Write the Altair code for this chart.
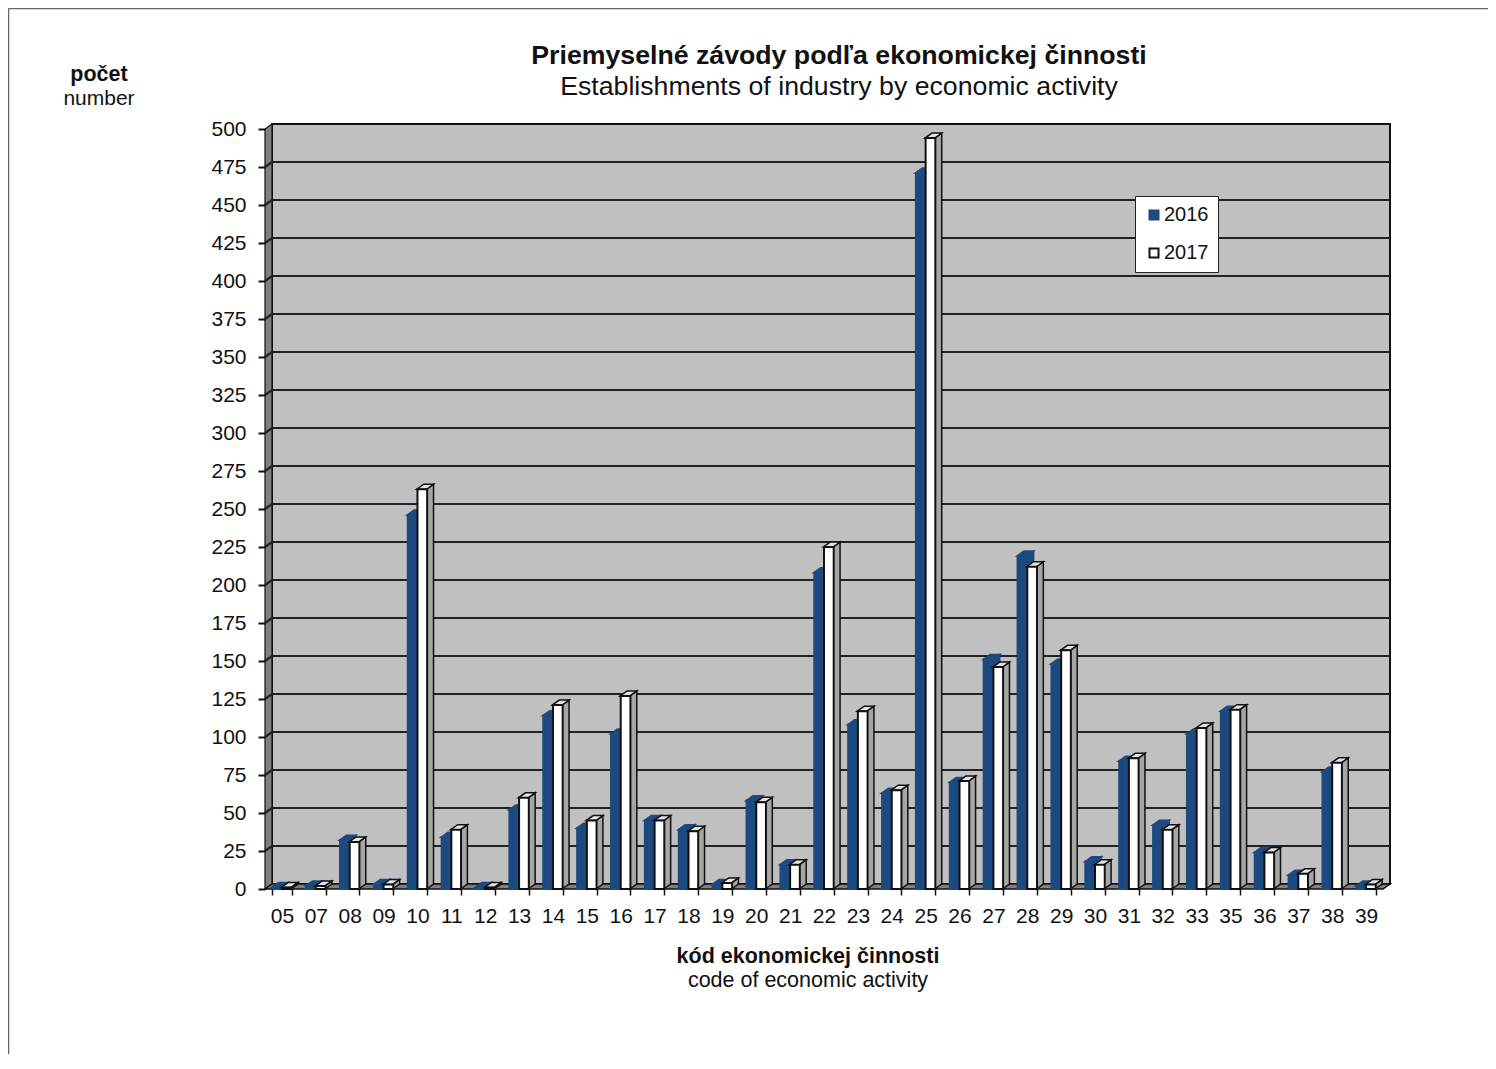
import altair as alt
import pandas as pd

codes = ["05","07","08","09","10","11","12","13","14","15","16","17","18","19","20","21","22",
         "23","24","25","26","27","28","29","30","31","32","33","35","36","37","38","39"]
v2016 = [1,2,32,3,246,34,1,52,114,40,102,45,39,3,58,16,208,108,63,471,70,151,219,148,18,84,42,102,117,24,9,77,2]
v2017 = [1,2,31,3,263,39,1,60,121,45,127,45,38,4,57,16,225,117,65,494,71,146,212,157,16,86,39,106,118,24,10,83,3]
ticks = list(range(0, 501, 25))

PLOT_W, PLOT_H = 1118, 760
n = len(codes)
STEP = PLOT_W / n
UNIT = PLOT_H / 500
DX = 7 / STEP        # depth of the 3-D box, in category units
DY = 5 / UNIT        # depth of the 3-D box, in value units
BAR = 9.7 / STEP
START = 6.6 / STEP

FONT = "Liberation Sans"
BLUE = "#1C4A80"


def faces(values, slot):
    side, top = [], []
    for i, v in enumerate(values):
        r = i + START + BAR * (slot + 1)
        l = r - BAR
        side += [dict(id=i, x=r, y=0, y2=v), dict(id=i, x=r + DX, y=DY, y2=v + DY)]
        top += [dict(id=i, x=l, y=v, y2=v), dict(id=i, x=l + DX, y=v, y2=v + DY),
                dict(id=i, x=r, y=v, y2=v + DY), dict(id=i, x=r + DX, y=v + DY, y2=v + DY)]
    return pd.DataFrame(side), pd.DataFrame(top)


xq = alt.X("x:Q", scale=alt.Scale(domain=[0, n], nice=False, zero=False), axis=None)
yscale = alt.Scale(domain=[0, 500], nice=False)
yq = alt.Y("y:Q", scale=yscale, axis=None)
yq2 = alt.Y2("y2:Q")


def poly(rows, fill, stroke="#111111", width=1.5):
    return alt.Chart(pd.DataFrame(rows)).mark_area(
        fill=fill, stroke=stroke, strokeWidth=width, interpolate="linear"
    ).encode(x=xq, y=yq, y2=yq2)


back = poly([dict(x=DX, y=DY, y2=500 + DY), dict(x=n + DX, y=DY, y2=500 + DY)], "#C0C0C0", width=2)
left = poly([dict(x=0, y=0, y2=500), dict(x=DX, y=DY, y2=500 + DY)], "#808080", width=1.2)
floor = poly([dict(x=0, y=0, y2=0), dict(x=DX, y=0, y2=DY),
              dict(x=n, y=0, y2=DY), dict(x=n + DX, y=DY, y2=DY)], "#808080", width=1.5)

grid_rows = []
for t in ticks[1:-1]:
    grid_rows += [dict(t=t, x=0, y=t), dict(t=t, x=DX, y=t + DY), dict(t=t, x=n + DX, y=t + DY)]
grid = alt.Chart(pd.DataFrame(grid_rows)).mark_line(color="#222222", strokeWidth=2.2).encode(
    x=xq, y=yq, detail="t:N", order="x:Q")

axis_y = alt.Chart(pd.DataFrame({"y": ticks})).mark_point(opacity=0).encode(
    y=alt.Y("y:Q", scale=yscale, axis=alt.Axis(
        values=ticks, title=None, grid=False, domain=False, tickColor="#111111", tickWidth=2,
        tickSize=7, labelPadding=12, labelFont=FONT, labelFontSize=21, labelColor="#111111", zindex=1)))


def side_top(values, slot, side_fill, top_fill, stroke):
    s, t = faces(values, slot)
    a = alt.Chart(s).mark_area(fill=side_fill, stroke=stroke, strokeWidth=1.5).encode(
        x=xq, y=yq, y2=yq2, detail="id:N")
    b = alt.Chart(t).mark_area(fill=top_fill, stroke=stroke, strokeWidth=1.5).encode(
        x=xq, y=yq, y2=yq2, detail="id:N")
    return a + b


bars = pd.DataFrame({
    "code": codes * 2,
    "year": ["2016"] * n + ["2017"] * n,
    "value": v2016 + v2017,
})
years = ["2016", "2017"]
band = alt.Scale(domain=codes, paddingInner=0.427, paddingOuter=0.2135)
off = alt.Scale(domain=years, paddingInner=0, paddingOuter=0)
fill_s = alt.Scale(domain=years, range=[BLUE, "#FFFFFF"])
stroke_s = alt.Scale(domain=years, range=[BLUE, "#111111"])
legend = alt.Legend(orient="none", legendX=870, legendY=67, title=None, fillColor="white",
                    strokeColor="#222222", padding=9, symbolType="square", symbolSize=81,
                    symbolStrokeWidth=2, labelFont=FONT, labelFontSize=20, labelColor="#111111",
                    rowPadding=18, labelOffset=0, symbolOffset=0)


def front(year, axis):
    return alt.Chart(bars).transform_filter(alt.datum.year == year).mark_bar(
        strokeWidth=2, xOffset=-0.6
    ).encode(
        x=alt.X("code:N", scale=band, sort=codes, axis=axis, title=None),
        xOffset=alt.XOffset("year:N", scale=off),
        y=alt.Y("value:Q", scale=yscale, axis=None),
        fill=alt.Fill("year:N", scale=fill_s, legend=legend),
        stroke=alt.Stroke("year:N", scale=stroke_s, legend=legend),
    )


x_axis = alt.Axis(title=None, labelAngle=0, tickBand="extent", domain=False, tickColor="#111111",
                  tickWidth=1.5, tickSize=6, labelPadding=10, labelFont=FONT, labelFontSize=21,
                  labelColor="#111111", labelOverlap=False)


def note(text, px, py, size, bold=False):
    return alt.Chart(pd.DataFrame({"t": [text]})).mark_text(
        font=FONT, fontSize=size, fontWeight="bold" if bold else "normal", color="#111111",
        align="center", baseline="middle"
    ).encode(text="t:N", x=alt.value(px - 265), y=alt.value(py - 129))


border_l = alt.Chart(pd.DataFrame({"a": [0]})).mark_rule(color="#666666", strokeWidth=1.5).encode(
    x=alt.value(-256.5), y=alt.value(-120.5), y2=alt.value(925))
border_t = alt.Chart(pd.DataFrame({"a": [0]})).mark_rule(color="#666666", strokeWidth=1.5).encode(
    y=alt.value(-120.5), x=alt.value(-256.5), x2=alt.value(1223))

chart = alt.layer(
    border_l, border_t,
    back, left, floor, grid, axis_y,
    side_top(v2016, 0, BLUE, BLUE, BLUE),
    front("2016", x_axis),
    side_top(v2017, 1, "#A6A6A6", "#E4E4E4", "#111111"),
    front("2017", None),
    note("Priemyselné závody podľa ekonomickej činnosti", 839, 56, 26.7, True),
    note("Establishments of industry by economic activity", 839, 87, 26.7),
    note("počet", 99, 75, 21.5, True),
    note("number", 99, 99, 21),
    note("kód ekonomickej činnosti", 808, 957, 21.5, True),
    note("code of economic activity", 808, 981, 21.5),
).resolve_scale(x="independent", xOffset="independent").resolve_axis(y="independent").properties(
    width=PLOT_W, height=PLOT_H,
    padding={"left": 257, "top": 121, "right": 105, "bottom": 169},
    autosize=alt.AutoSizeParams(type="none"),
).configure_view(stroke=None)

chart.save("out.html", embed_options={"renderer": "svg", "actions": False})
